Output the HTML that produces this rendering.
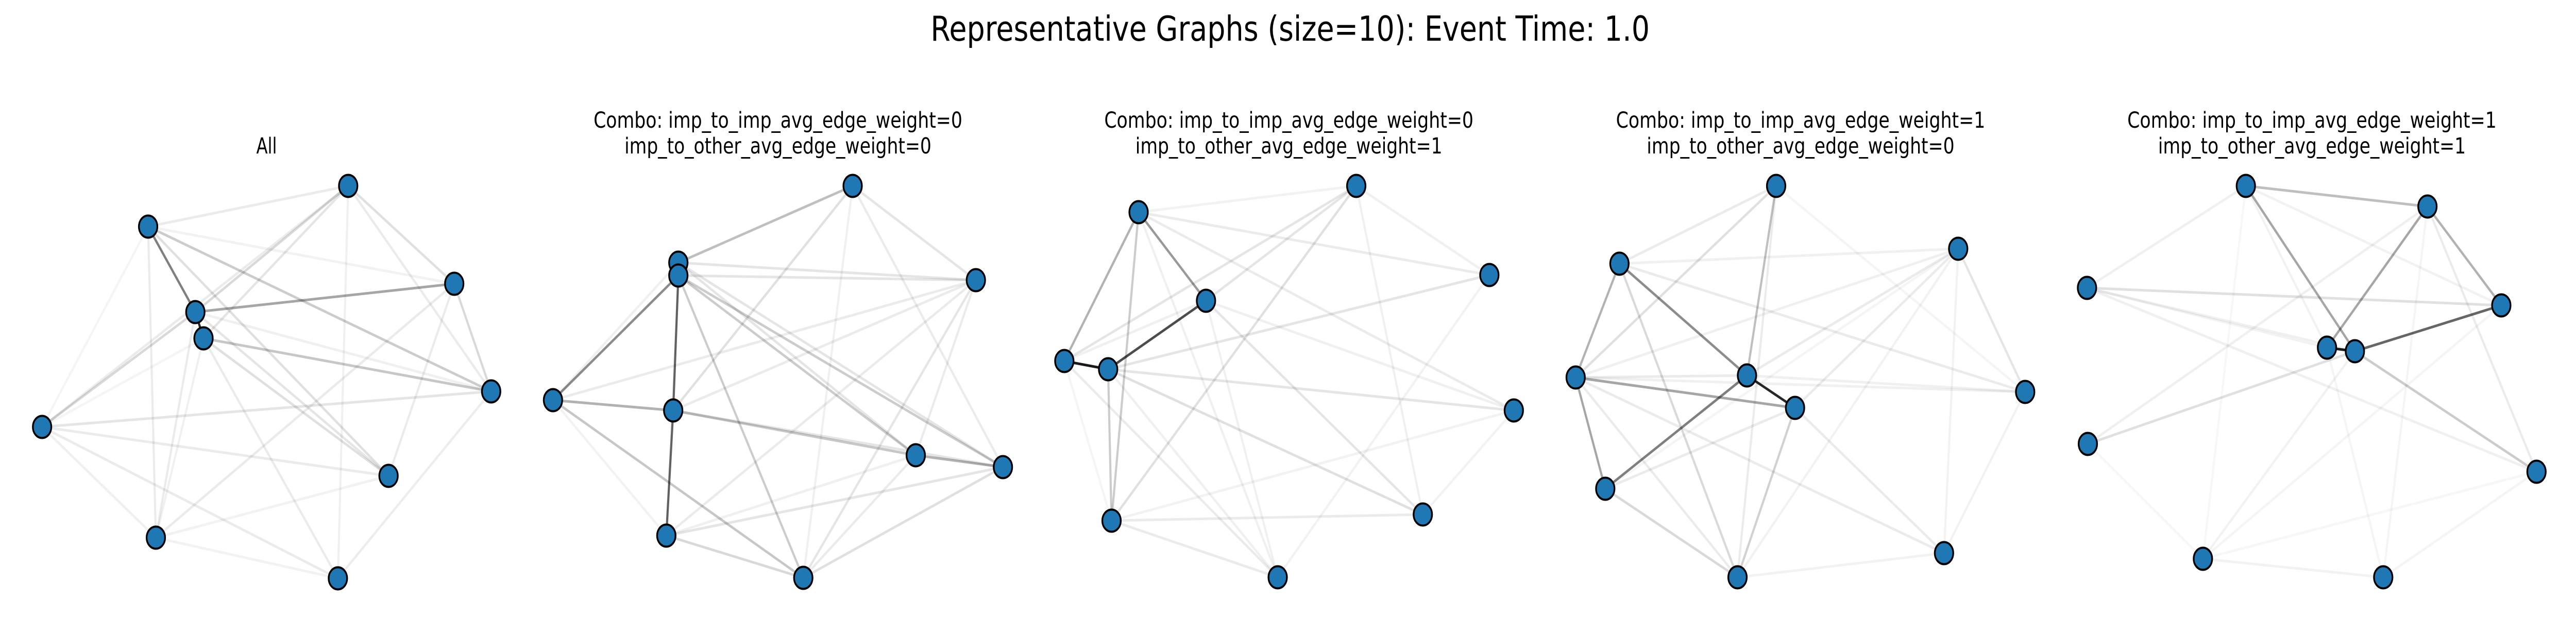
<!DOCTYPE html>
<html><head><meta charset="utf-8"><style>
html,body{margin:0;padding:0;background:#fff;overflow:hidden;width:100%;height:100%;}
svg{display:block;width:100vw;height:100vh;}
text{font-family:"DejaVu Sans","Liberation Sans",sans-serif;fill:#000;}
</style></head><body>
<svg id="fig" viewBox="0 0 6000 1200" preserveAspectRatio="none" xmlns="http://www.w3.org/2000/svg">
<text x="3005" y="79" font-size="67" text-anchor="middle" textLength="1675" lengthAdjust="spacingAndGlyphs">Representative Graphs (size=10): Event Time: 1.0</text>
<g><text x="621" y="298" font-size="43" text-anchor="middle" textLength="48" lengthAdjust="spacingAndGlyphs">All</text><g id="g0"></g></g>
<g><text x="1812" y="248" font-size="43" text-anchor="middle" textLength="859" lengthAdjust="spacingAndGlyphs">Combo: imp_to_imp_avg_edge_weight=0</text><text x="1812" y="298" font-size="43" text-anchor="middle" textLength="715" lengthAdjust="spacingAndGlyphs">imp_to_other_avg_edge_weight=0</text><g id="g1"></g></g>
<g><text x="3002" y="248" font-size="43" text-anchor="middle" textLength="860" lengthAdjust="spacingAndGlyphs">Combo: imp_to_imp_avg_edge_weight=0</text><text x="3002" y="298" font-size="43" text-anchor="middle" textLength="715" lengthAdjust="spacingAndGlyphs">imp_to_other_avg_edge_weight=1</text><g id="g2"></g></g>
<g><text x="4194" y="248" font-size="43" text-anchor="middle" textLength="860" lengthAdjust="spacingAndGlyphs">Combo: imp_to_imp_avg_edge_weight=1</text><text x="4194" y="298" font-size="43" text-anchor="middle" textLength="717" lengthAdjust="spacingAndGlyphs">imp_to_other_avg_edge_weight=0</text><g id="g3"></g></g>
<g><text x="5385" y="248" font-size="43" text-anchor="middle" textLength="860" lengthAdjust="spacingAndGlyphs">Combo: imp_to_imp_avg_edge_weight=1</text><text x="5385" y="298" font-size="43" text-anchor="middle" textLength="717" lengthAdjust="spacingAndGlyphs">imp_to_other_avg_edge_weight=1</text><g id="g4"></g></g>
</svg>
<script>
// Panel 0: All
const nodesX0 = [811,345,1058,455,474,1144,98,905,363,787];
const nodesY0 = [361,440,551,606,657,760,829,924,1044,1123];
const edges0 = [[1,3],[3,4],[3,2],[4,5],[1,5],[0,3],[0,4],[6,3],[0,6],[0,1],[0,2],[0,5],[0,9],[1,7],[1,8],[1,2],[2,5],[2,7],[2,8],[4,7],[3,7],[6,5],[6,7],[6,9],[6,8],[3,8],[4,8],[4,9],[8,9],[8,7],[5,9],[1,6],[3,5],[6,4]];
const weights0 = [0.5,0.85,0.35,0.22,0.2,0.15,0.1,0.15,0.08,0.08,0.12,0.08,0.06,0.12,0.08,0.05,0.15,0.08,0.08,0.12,0.1,0.1,0.08,0.08,0.06,0.08,0.06,0.08,0.05,0.05,0.07,0.04,0.06,0.04];
// Panel 1
const nodesX1 = [1986,1580,1580,2273,1288,1568,2133,2336,1552,1871];
const nodesY1 = [361,510,535,544,777,797,884,907,1040,1122];
const edges1 = [[2,5],[5,8],[2,4],[0,1],[4,5],[5,6],[6,7],[4,9],[2,9],[2,6],[2,7],[1,3],[2,3],[0,3],[0,5],[0,7],[0,9],[3,4],[3,5],[3,9],[3,6],[3,8],[7,8],[7,9],[8,9],[6,8],[6,9],[4,8],[5,7],[1,4],[2,8],[1,6],[1,7]];
const weights1 = [0.6,0.6,0.45,0.25,0.3,0.22,0.3,0.22,0.2,0.2,0.2,0.1,0.1,0.1,0.12,0.08,0.06,0.08,0.08,0.1,0.08,0.08,0.1,0.12,0.15,0.06,0.08,0.05,0.1,0.06,0.05,0.1,0.1];
// Panel 2
const nodesX2 = [3159,2652,3469,2809,2479,2581,3526,3314,2589,2976];
const nodesY2 = [361,412,534,584,701,717,797,999,1011,1121];
const edges2 = [[4,5],[5,3],[1,3],[1,4],[1,8],[5,8],[5,2],[5,6],[5,7],[0,4],[0,3],[0,8],[1,0],[1,2],[1,6],[1,9],[3,7],[3,6],[4,3],[4,9],[4,8],[8,7],[8,9],[0,7],[0,2],[2,9],[6,7],[6,8],[5,9],[3,9]];
const weights2 = [0.9,0.7,0.4,0.3,0.2,0.2,0.1,0.1,0.12,0.1,0.1,0.12,0.05,0.08,0.08,0.06,0.1,0.06,0.06,0.08,0.04,0.08,0.08,0.06,0.06,0.05,0.05,0.05,0.06,0.06];
// Panel 3
const nodesX3 = [4137,4561,3772,3670,4069,4717,4181,3739,4528,4047];
const nodesY3 = [361,483,512,733,729,761,792,949,1074,1121];
const edges3 = [[4,6],[4,7],[3,6],[2,4],[2,3],[3,7],[0,4],[6,9],[7,9],[2,9],[0,3],[0,2],[0,9],[2,1],[3,1],[4,1],[6,1],[1,5],[3,4],[3,5],[4,5],[2,5],[3,8],[6,8],[3,9],[1,9],[1,8],[9,8],[7,6],[5,8],[7,1],[0,5]];
const weights3 = [0.85,0.5,0.35,0.45,0.3,0.35,0.25,0.18,0.15,0.15,0.12,0.08,0.08,0.06,0.06,0.08,0.08,0.1,0.08,0.06,0.06,0.08,0.08,0.08,0.08,0.05,0.05,0.05,0.08,0.05,0.04,0.04];
// Panel 4
const nodesX4 = [5231,5654,4861,5826,5420,5485,4863,5908,5131,5551];
const nodesY4 = [361,401,559,593,675,682,862,916,1085,1121];
const edges4 = [[4,5],[5,3],[0,5],[1,4],[1,3],[0,1],[5,7],[2,3],[5,6],[1,6],[1,7],[0,2],[2,5],[2,4],[2,7],[0,4],[0,3],[8,9],[8,5],[8,3],[8,0],[9,4],[9,1],[9,7],[6,8],[7,8]];
const weights4 = [0.9,0.6,0.35,0.35,0.3,0.25,0.2,0.12,0.12,0.06,0.08,0.06,0.06,0.05,0.06,0.05,0.05,0.05,0.05,0.04,0.03,0.04,0.04,0.04,0.03,0.03];

const panelsNX=[nodesX0,nodesX1,nodesX2,nodesX3,nodesX4];
const panelsNY=[nodesY0,nodesY1,nodesY2,nodesY3,nodesY4];
const panelsE=[edges0,edges1,edges2,edges3,edges4];
const panelsW=[weights0,weights1,weights2,weights3,weights4];
const NS='http://www.w3.org/2000/svg';
for(let p=0;p<5;p++){
  const g=document.getElementById('g'+p);
  const X=panelsNX[p],Y=panelsNY[p],E=panelsE[p],W=panelsW[p];
  E.forEach((e,k)=>{
    const l=document.createElementNS(NS,'line');
    l.setAttribute('x1',X[e[0]]);l.setAttribute('y1',Y[e[0]]);
    l.setAttribute('x2',X[e[1]]);l.setAttribute('y2',Y[e[1]]);
    l.setAttribute('stroke','#000');l.setAttribute('stroke-opacity',W[k]);
    l.setAttribute('stroke-width','5');
    
    
    g.appendChild(l);
  });
  X.forEach((x,i)=>{
    const c=document.createElementNS(NS,'circle');
    c.setAttribute('cx',x);c.setAttribute('cy',Y[i]);
    c.setAttribute('r',21.5);
    c.setAttribute('fill','#1f77b4');c.setAttribute('stroke','#000');c.setAttribute('stroke-width','4');
    
    
    g.appendChild(c);
  });
}
</script>
</body></html>
